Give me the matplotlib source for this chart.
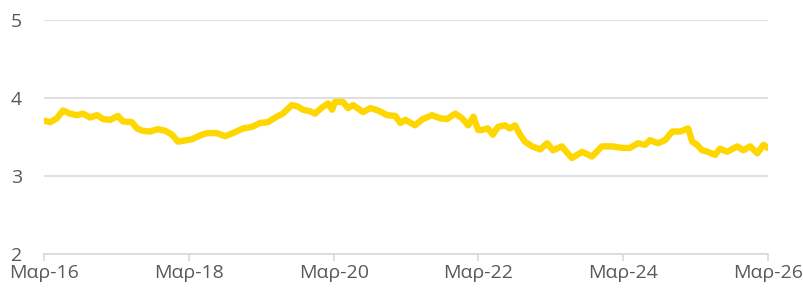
import matplotlib
matplotlib.use('Agg')
import matplotlib.pyplot as plt
import pandas as pd

dates = [
    '2016-03-01', '2016-04-01', '2016-05-05', '2016-06-05', '2016-07-10', '2016-08-15',
    '2016-09-14', '2016-10-19', '2016-11-24', '2016-12-24', '2017-01-29', '2017-03-09',
    '2017-04-03', '2017-05-18', '2017-06-13', '2017-07-12', '2017-08-17', '2017-09-27',
    '2017-11-02', '2017-12-07', '2018-01-06', '2018-02-21', '2018-03-16', '2018-05-06',
    '2018-06-05', '2018-07-20', '2018-09-01', '2018-10-10', '2018-11-30', '2019-01-15',
    '2019-02-24', '2019-04-04', '2019-05-19', '2019-06-19', '2019-08-03', '2019-09-03',
    '2019-09-28', '2019-11-03', '2019-11-28', '2020-01-03', '2020-02-02', '2020-02-22',
    '2020-03-08', '2020-04-17', '2020-05-12', '2020-06-07', '2020-07-27', '2020-09-02',
    '2020-10-11', '2020-11-26', '2021-01-06', '2021-02-01', '2021-02-26', '2021-04-15',
    '2021-05-25', '2021-07-10', '2021-08-20', '2021-09-24', '2021-11-04', '2021-12-09',
    '2022-01-09', '2022-02-04', '2022-02-28', '2022-03-18', '2022-04-18', '2022-05-13',
    '2022-06-08', '2022-07-13', '2022-08-07', '2022-09-02', '2022-09-27', '2022-10-22',
    '2022-11-27', '2023-01-07', '2023-02-11', '2023-03-12', '2023-04-26', '2023-06-16',
    '2023-08-06', '2023-09-25', '2023-11-15', '2024-01-05', '2024-02-24', '2024-04-04',
    '2024-05-14', '2024-06-19', '2024-07-14', '2024-08-23', '2024-09-28', '2024-11-03',
    '2024-12-13', '2025-01-22', '2025-02-12', '2025-03-08', '2025-04-02', '2025-05-02',
    '2025-06-07', '2025-07-02', '2025-08-07', '2025-09-27', '2025-10-27', '2025-12-01',
    '2026-01-06', '2026-02-06', '2026-03-01',
]
values = [
    3.71, 3.69, 3.74, 3.84, 3.80, 3.78,
    3.80, 3.75, 3.78, 3.73, 3.72, 3.77,
    3.70, 3.69, 3.61, 3.58, 3.57, 3.60,
    3.58, 3.53, 3.44, 3.46, 3.47, 3.53,
    3.55, 3.55, 3.51, 3.55, 3.61, 3.63,
    3.68, 3.69, 3.76, 3.80, 3.91, 3.89,
    3.85, 3.83, 3.80, 3.88, 3.93, 3.85,
    3.95, 3.95, 3.87, 3.91, 3.82, 3.87,
    3.84, 3.78, 3.77, 3.68, 3.72, 3.65,
    3.73, 3.78, 3.74, 3.73, 3.80, 3.74,
    3.65, 3.76, 3.59, 3.59, 3.61, 3.53,
    3.63, 3.65, 3.61, 3.65, 3.53, 3.44,
    3.38, 3.34, 3.42, 3.33, 3.38, 3.23,
    3.31, 3.25, 3.38, 3.38, 3.36, 3.36,
    3.42, 3.40, 3.46, 3.42, 3.46, 3.57,
    3.57, 3.61, 3.44, 3.40, 3.33, 3.31,
    3.27, 3.35, 3.31, 3.38, 3.33, 3.38,
    3.29, 3.40, 3.36,
]
tick_dates = ['2016-03-01', '2018-03-01', '2020-03-01', '2022-03-01', '2024-03-01', '2026-03-01']
tick_labels = ['Μαρ-16', 'Μαρ-18', 'Μαρ-20', 'Μαρ-22', 'Μαρ-24', 'Μαρ-26']
y_ticks = [2, 3, 4, 5]

plt.rcParams['font.family'] = ['Open Sans', 'DejaVu Sans']

x = pd.to_datetime(dates)
ticks = pd.to_datetime(tick_dates)

fig = plt.figure(figsize=(8.04, 2.95), dpi=100)
ax = fig.add_axes([44 / 804, 1 - 254 / 295, 724 / 804, 234 / 295])

ax.plot(x, values, color='#FFD700', linewidth=4.6, solid_joinstyle='round', solid_capstyle='round')

ax.set_ylim(2, 5)
ax.set_yticks(y_ticks)
ax.set_xlim(ticks[0], ticks[-1])
ax.set_xticks(ticks)
ax.set_xticklabels(tick_labels)

ax.grid(axis='y', color='#D9D9D9', linewidth=1.2)
ax.set_axisbelow(True)
for side in ['top', 'right', 'left']:
    ax.spines[side].set_visible(False)
ax.spines['bottom'].set_color('#D9D9D9')
ax.spines['bottom'].set_linewidth(1.2)

ax.tick_params(axis='y', length=0, pad=16, labelsize=14, labelcolor='#595959')
ax.tick_params(axis='x', length=5, width=1.2, color='#D9D9D9', pad=2, labelsize=14, labelcolor='#595959')

fig.savefig('out.png', dpi=100)
